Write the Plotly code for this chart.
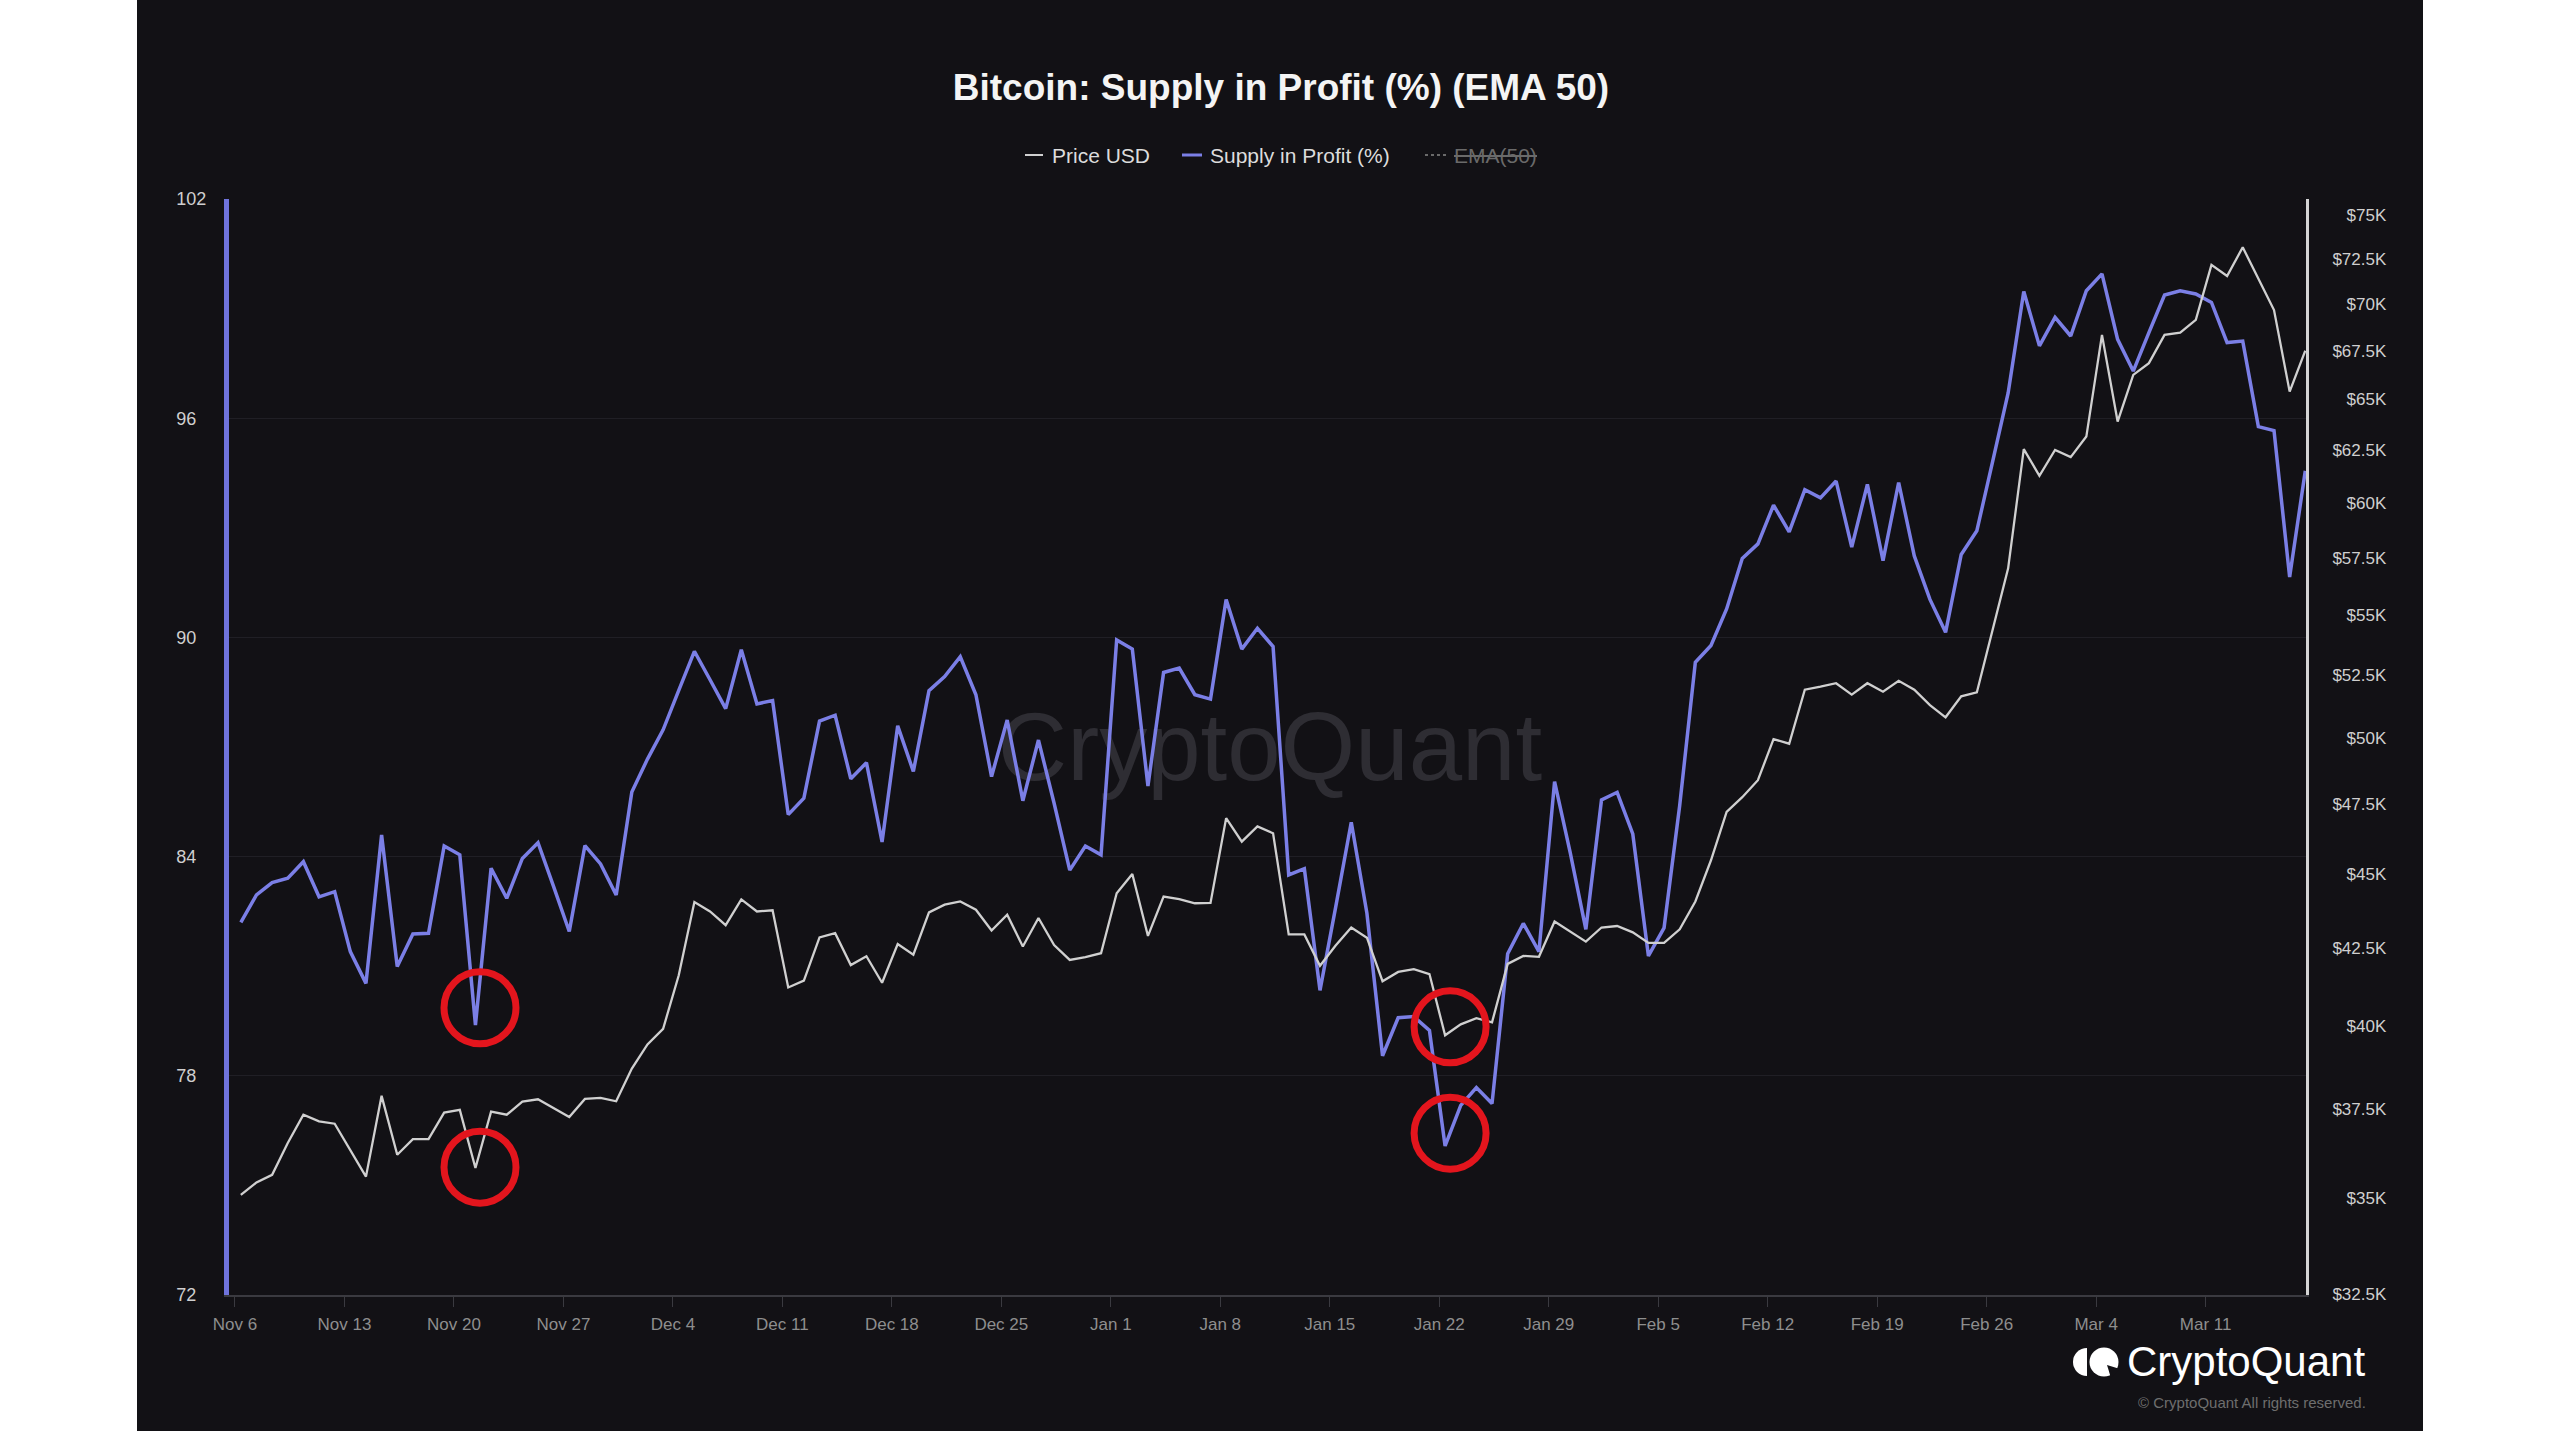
import math
import pandas as pd
import plotly.graph_objects as go

# ---------------- data ----------------
start_date = "2023-11-06 09:00"   # daily values (00:00 UTC shown in local time)

supply_in_profit_pct = [
    82.20, 82.95, 83.29, 83.41, 83.86, 82.90, 83.04, 81.40, 80.53, 84.59,
    80.99, 81.88, 81.90, 84.29, 84.05, 79.39, 83.68, 82.86, 83.95, 84.38,
    83.18, 81.95, 84.30, 83.80, 82.95, 85.77, 86.67, 87.47, 88.55, 89.62,
    88.84, 88.05, 89.66, 88.18, 88.27, 85.15, 85.60, 87.71, 87.87, 86.13,
    86.57, 84.40, 87.58, 86.33, 88.54, 88.93, 89.47, 88.43, 86.19, 87.74,
    85.53, 87.19, 85.46, 83.63, 84.29, 84.05, 89.93, 89.68, 85.93, 89.04,
    89.16, 88.43, 88.31, 91.04, 89.68, 90.25, 89.75, 83.50, 83.67, 80.34,
    82.61, 84.94, 82.45, 78.55, 79.59, 79.62, 79.24, 76.08, 77.19, 77.68,
    77.24, 81.34, 82.17, 81.40, 86.05, 84.11, 82.01, 85.55, 85.76, 84.62,
    81.28, 82.05, 85.40, 89.32, 89.78, 90.78, 92.16, 92.56, 93.62, 92.89,
    94.04, 93.82, 94.28, 92.47, 94.19, 92.10, 94.24, 92.23, 91.04, 90.14,
    92.27, 92.92, 94.80, 96.69, 99.47, 97.98, 98.76, 98.25, 99.49, 99.95,
    98.16, 97.29, 98.34, 99.37, 99.49, 99.40, 99.17, 98.07, 98.11, 95.77,
    95.66, 91.65, 94.56,
]

price_usd_k = [
    35.09, 35.43, 35.64, 36.53, 37.34, 37.15, 37.08, 36.34, 35.59, 37.89,
    36.20, 36.64, 36.64, 37.40, 37.48, 35.83, 37.43, 37.34, 37.72, 37.79,
    37.53, 37.27, 37.80, 37.83, 37.73, 38.70, 39.43, 39.91, 41.60, 44.03,
    43.71, 43.25, 44.12, 43.71, 43.75, 41.21, 41.43, 42.84, 42.98, 41.93,
    42.22, 41.36, 42.62, 42.27, 43.68, 43.94, 44.05, 43.77, 43.07, 43.60,
    42.54, 43.49, 42.59, 42.10, 42.19, 42.32, 44.33, 45.00, 42.89, 44.22,
    44.13, 43.99, 44.00, 46.99, 46.14, 46.69, 46.44, 42.94, 42.94, 41.91,
    42.57, 43.17, 42.83, 41.41, 41.71, 41.80, 41.64, 39.71, 40.05, 40.24,
    40.11, 41.97, 42.23, 42.20, 43.37, 43.04, 42.70, 43.17, 43.22, 43.01,
    42.66, 42.66, 43.11, 44.05, 45.48, 47.22, 47.76, 48.39, 49.96, 49.78,
    51.91, 52.03, 52.17, 51.71, 52.17, 51.83, 52.27, 51.91, 51.29, 50.81,
    51.64, 51.80, 54.37, 57.03, 62.55, 61.27, 62.51, 62.16, 63.16, 68.34,
    63.90, 66.25, 66.86, 68.34, 68.46, 69.14, 72.15, 71.53, 73.14, 71.41,
    69.67, 65.40, 67.51,
]

x_tick_dates = ["2023-11-06", "2023-11-13", "2023-11-20", "2023-11-27", "2023-12-04",
                "2023-12-11", "2023-12-18", "2023-12-25", "2024-01-01", "2024-01-08",
                "2024-01-15", "2024-01-22", "2024-01-29", "2024-02-05", "2024-02-12",
                "2024-02-19", "2024-02-26", "2024-03-04", "2024-03-11"]
x_tick_labels = ["Nov 6", "Nov 13", "Nov 20", "Nov 27", "Dec 4", "Dec 11", "Dec 18",
                 "Dec 25", "Jan 1", "Jan 8", "Jan 15", "Jan 22", "Jan 29", "Feb 5",
                 "Feb 12", "Feb 19", "Feb 26", "Mar 4", "Mar 11"]
left_ticks = [72, 78, 84, 90, 96, 102]
right_ticks_k = [32.5, 35, 37.5, 40, 42.5, 45, 47.5, 50, 52.5, 55, 57.5, 60,
                 62.5, 65, 67.5, 70, 72.5, 75]

# highlighted dips (date, value on the % axis)
highlight_marks = [("2023-11-21 16:00", 79.86), ("2023-11-21 16:00", 75.50),
                   ("2024-01-22 16:40", 79.34), ("2024-01-22 16:40", 76.43)]

# ---------------- styling ----------------
W, H = 2560, 1441
PL, PR, PT, PB = 229, 2306, 199, 1295      # plot area in pixels
PW, PH = PR - PL, PB - PT
FONT = "Liberation Sans, Arial, Helvetica, sans-serif"
BG = "#121115"
BLUE = "#7b7fe6"
GREY = "#d0d0d0"
RED = "#e3151d"
NB = "\u00a0"


def px(x):
    return (x - PL) / PW


def py(y):
    return (PB - y) / PH


dates = pd.date_range(start_date, periods=len(supply_in_profit_pct), freq="D")

fig = go.Figure()
fig.add_trace(go.Scatter(x=dates, y=supply_in_profit_pct, mode="lines",
                         name="Supply in Profit (%)", yaxis="y",
                         line=dict(color=BLUE, width=3.5)))
fig.add_trace(go.Scatter(x=dates, y=price_usd_k, mode="lines",
                         name="Price USD", yaxis="y2",
                         line=dict(color=GREY, width=2.3)))

left_text = [(str(v) + NB * 2) if v < 100 else str(v) for v in left_ticks]
right_text = []
for v in right_ticks_k:
    s = "${:g}K".format(v)
    if float(v).is_integer():
        s = NB * 3 + s
    right_text.append(s)

shapes = []
# dark panel
shapes.append(dict(type="rect", xref="paper", yref="paper", layer="below",
                   x0=px(137), x1=px(2423), y0=py(1431), y1=py(0),
                   fillcolor=BG, line=dict(width=0)))
# watermark
shapes.append(dict(type="rect", xref="paper", yref="paper", layer="below",
                   x0=px(900), x1=px(1640), y0=py(800), y1=py(675),
                   fillcolor="rgba(0,0,0,0)", line=dict(width=0),
                   label=dict(text="CryptoQuant", textposition="middle center",
                              font=dict(size=96, color="#2e2d33", family=FONT))))
# red circles
for d, v in highlight_marks:
    shapes.append(dict(type="circle", xref="x", yref="y", xsizemode="pixel",
                       ysizemode="pixel", xanchor=d, yanchor=v,
                       x0=-36, x1=36, y0=-36, y1=36, layer="above",
                       line=dict(color=RED, width=7)))

# custom legend markers
leg_y = py(155)
shapes.append(dict(type="line", xref="paper", yref="paper", x0=px(1025), x1=px(1043),
                   y0=leg_y, y1=leg_y, line=dict(color=GREY, width=2)))
shapes.append(dict(type="line", xref="paper", yref="paper", x0=px(1182), x1=px(1202),
                   y0=leg_y, y1=leg_y, line=dict(color=BLUE, width=3)))
shapes.append(dict(type="line", xref="paper", yref="paper", x0=px(1425), x1=px(1448),
                   y0=leg_y, y1=leg_y, line=dict(color="#6a6a6a", width=2, dash="dot")))
shapes.append(dict(type="line", xref="paper", yref="paper", x0=px(1454), x1=px(1537),
                   y0=py(156), y1=py(156), line=dict(color="#6a6a6a", width=2)))

# logo icon
cy = py(1362)
shapes.append(dict(type="circle", xref="paper", yref="paper", xsizemode="pixel",
                   ysizemode="pixel", xanchor=px(2087), yanchor=cy,
                   x0=-14, x1=14, y0=-14, y1=14, fillcolor="white", line=dict(width=0)))
shapes.append(dict(type="rect", xref="paper", yref="paper", xsizemode="pixel",
                   ysizemode="pixel", xanchor=px(2087), yanchor=cy,
                   x0=0, x1=16, y0=-16, y1=16, fillcolor=BG, line=dict(width=0)))
shapes.append(dict(type="circle", xref="paper", yref="paper", xsizemode="pixel",
                   ysizemode="pixel", xanchor=px(2104), yanchor=cy,
                   x0=-14.5, x1=14.5, y0=-14.5, y1=14.5, fillcolor="white",
                   line=dict(width=0)))
shapes.append(dict(type="path", xref="paper", yref="paper", xsizemode="pixel",
                   ysizemode="pixel", xanchor=px(2104), yanchor=cy,
                   path="M 3,-3 L 16,-7 L 7,-16 Z", fillcolor=BG, line=dict(width=0)))

annotations = [
    dict(text="Price USD", x=px(1050), y=leg_y, xref="paper", yref="paper",
         xanchor="left", yanchor="middle", showarrow=False,
         font=dict(size=21, color="#dcdcdc", family=FONT)),
    dict(text="Supply in Profit (%)", x=px(1208), y=leg_y, xref="paper", yref="paper",
         xanchor="left", yanchor="middle", showarrow=False,
         font=dict(size=21, color="#dcdcdc", family=FONT)),
    dict(text="EMA(50)", x=px(1452), y=leg_y, xref="paper", yref="paper",
         xanchor="left", yanchor="middle", showarrow=False,
         font=dict(size=21, color="#6a6a6a", family=FONT)),
    dict(text="CryptoQuant", x=px(2125), y=py(1361), xref="paper", yref="paper",
         xanchor="left", yanchor="middle", showarrow=False,
         font=dict(size=42, color="white", family=FONT)),
    dict(text="\u00a9 CryptoQuant All rights reserved.", x=px(2368), y=py(1402),
         xref="paper", yref="paper", xanchor="right", yanchor="middle",
         showarrow=False, font=dict(size=15, color="#6e6e6e", family=FONT)),
]

fig.update_layout(
    width=W, height=H, autosize=False,
    margin=dict(l=PL, r=W - PR, t=PT, b=H - PB, pad=0),
    paper_bgcolor="white", plot_bgcolor=BG,
    showlegend=False,
    font=dict(family=FONT),
    title=dict(text="<b>Bitcoin: Supply in Profit (%) (EMA 50)</b>",
               x=px(1281), xref="paper", xanchor="center",
               y=1 - 87 / H, yref="container", yanchor="middle",
               font=dict(size=37, color="#f4f4f4", family=FONT)),
    xaxis=dict(type="date", range=["2023-11-05 14:50", "2024-03-17 10:05"],
               tickmode="array", tickvals=x_tick_dates, ticktext=x_tick_labels,
               showgrid=False, zeroline=False, showline=True,
               linecolor="#3a3a40", linewidth=2, ticks="outside", ticklen=10,
               tickcolor="#3a3a40", tickwidth=1, ticklabelstandoff=3,
               tickfont=dict(size=17, color="#8e8e8e", family=FONT)),
    yaxis=dict(range=[72, 102], tickmode="array", tickvals=left_ticks,
               ticktext=left_text, showgrid=True, gridcolor="#201f25", gridwidth=1,
               zeroline=False, showline=True, linecolor="#6f73dc", linewidth=5,
               ticks="", ticklabelstandoff=14,
               tickfont=dict(size=18, color="#cfcfcf", family=FONT)),
    yaxis2=dict(overlaying="y", side="right", type="log",
                range=[math.log10(32.47), math.log10(75.93)],
                tickmode="array", tickvals=right_ticks_k, ticktext=right_text,
                showgrid=False, zeroline=False, showline=True,
                linecolor="#d4d4d4", linewidth=3, ticks="", ticklabelstandoff=20,
                tickfont=dict(size=17, color="#cfcfcf", family=FONT)),
    shapes=shapes,
    annotations=annotations,
)

fig.write_html("out.html")
